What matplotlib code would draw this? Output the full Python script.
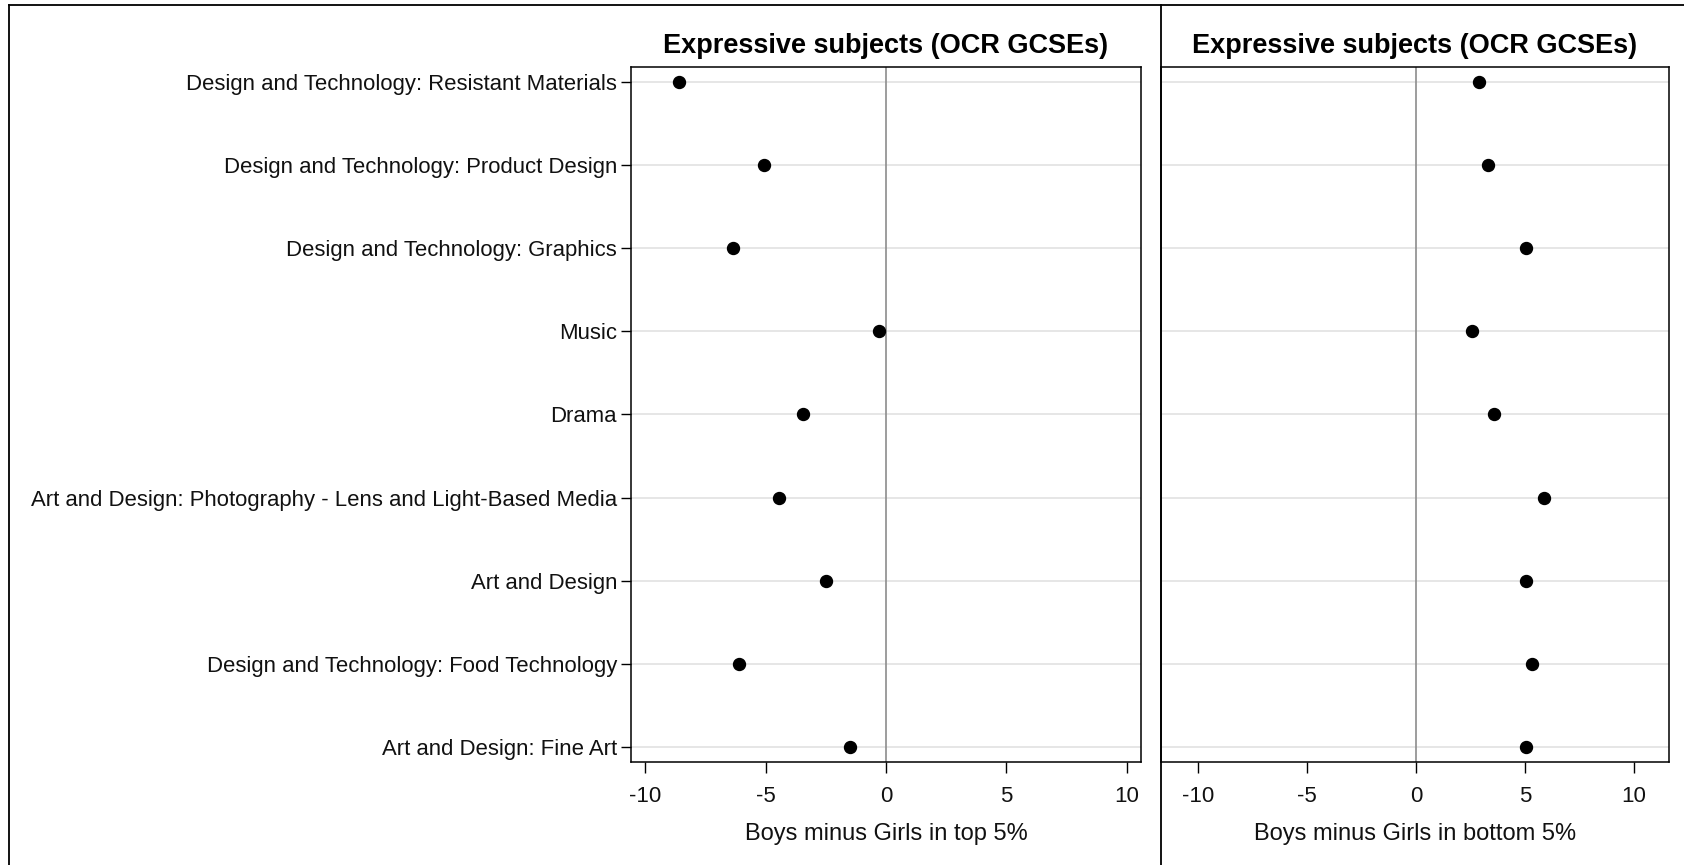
import numpy as np
import matplotlib
matplotlib.use("Agg")
import matplotlib.pyplot as plt
from matplotlib.lines import Line2D

plt.rcParams['font.family'] = ['Liberation Sans', 'DejaVu Sans']

# subjects, top to bottom as shown
subjects = ['Design and Technology: Resistant Materials',
            'Design and Technology: Product Design',
            'Design and Technology: Graphics',
            'Music',
            'Drama',
            'Art and Design: Photography - Lens and Light-Based Media',
            'Art and Design',
            'Design and Technology: Food Technology',
            'Art and Design: Fine Art']
top5 = [-8.6, -5.08, -6.37, -0.29, -3.47, -4.46, -2.49, -6.1, -1.51]
bottom5 = [2.9, 3.32, 5.05, 2.58, 3.56, 5.87, 5.03, 5.31, 5.03]
xticks = [-10, -5, 0, 5, 10]
title = 'Expressive subjects (OCR GCSEs)'

W, H = 1684, 865
fig = plt.figure(figsize=(W / 100, H / 100), dpi=100)

def px(x0, y0, x1, y1):
    # pixel box -> figure fraction rect
    return [x0 / W, 1 - y1 / H, (x1 - x0) / W, (y1 - y0) / H]

ax1 = fig.add_axes(px(631, 67, 1141, 762))
ax2 = fig.add_axes(px(1161, 67, 1669, 762))

ypos = np.arange(len(subjects))

def draw(ax, vals, xlabel, xlim):
    for y in ypos:
        ax.axhline(y, color='#e2e2e2', lw=1.2, zorder=0)
    ax.axvline(0, color='#8c8c8c', lw=1.2, zorder=1)
    ax.plot(vals, ypos, 'o', color='black', ms=8.6, zorder=3)
    ax.set_ylim(len(subjects) - 1 + 0.175, -0.175)
    ax.set_xlim(*xlim)
    ax.set_xticks(xticks)
    ax.set_xticklabels([str(t) for t in xticks], fontsize=16, color='#111111')
    ax.tick_params(axis='x', length=8, width=1, pad=9)
    ax.tick_params(axis='y', length=7, width=1, pad=3)
    ax.set_xlabel(xlabel, fontsize=17, color='#111111', labelpad=12)
    ax.set_title(title, fontsize=19.5, fontweight='bold', pad=10)
    for s in ax.spines.values():
        s.set_linewidth(1.1)

draw(ax1, top5, 'Boys minus Girls in top 5%', (-10.6, 10.6))
ax1.set_yticks(ypos)
ax1.set_yticklabels(subjects, fontsize=15.9, color='#111111')

draw(ax2, bottom5, 'Boys minus Girls in bottom 5%', (-11.7, 11.6))
ax2.set_yticks(ypos)
ax2.set_yticklabels([])
ax2.tick_params(axis='y', length=0)

# outer panel borders
def fline(x0, y0, x1, y1):
    fig.add_artist(Line2D([x0 / W, x1 / W], [1 - y0 / H, 1 - y1 / H],
                          color='black', lw=1.3, transform=fig.transFigure))

fline(9, 5, 1684, 5)
fline(9, 5, 9, 865)
fline(1161, 5, 1161, 865)

fig.savefig('out.png', dpi=100)
